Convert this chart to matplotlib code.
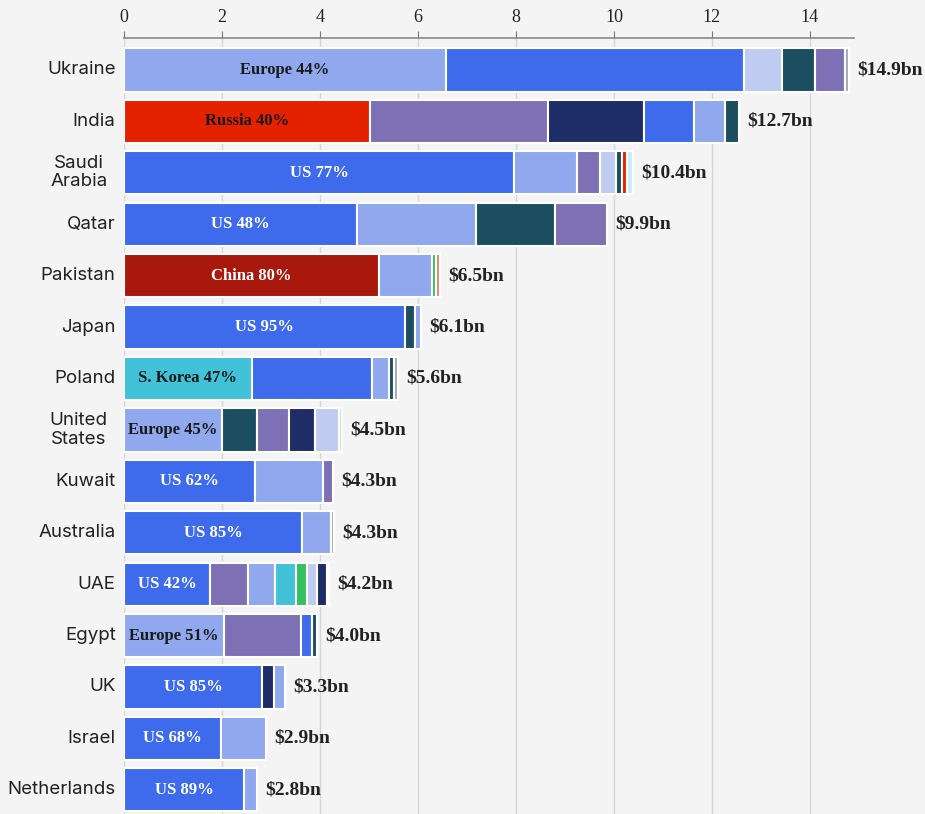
import matplotlib.pyplot as plt

# countries, top to bottom
countries = ['Ukraine', 'India', 'Saudi\nArabia', 'Qatar', 'Pakistan', 'Japan',
             'Poland', 'United\nStates', 'Kuwait', 'Australia', 'UAE', 'Egypt',
             'UK', 'Israel', 'Netherlands']
totals = ['14.9', '12.7', '10.4', '9.9', '6.5', '6.1', '5.6', '4.5', '4.3', '4.3',
          '4.2', '4.0', '3.3', '2.9', '2.8']
first_labels = ['Europe 44%', 'Russia 40%', 'US 77%', 'US 48%', 'China 80%',
                'US 95%', 'S. Korea 47%', 'Europe 45%', 'US 62%', 'US 85%',
                'US 42%', 'Europe 51%', 'US 85%', 'US 68%', 'US 89%']

# segment values ($bn) and colour keys, one list per country
seg_values = [
    [6.57, 6.08, 0.78, 0.67, 0.61, 0.08],
    [5.02, 3.63, 1.96, 1.02, 0.63, 0.30],
    [7.96, 1.28, 0.47, 0.33, 0.12, 0.11, 0.12],
    [4.76, 2.42, 1.62, 1.06],
    [5.20, 1.09, 0.08, 0.08],
    [5.74, 0.20, 0.12],
    [2.61, 2.45, 0.35, 0.10, 0.08],
    [2.00, 0.71, 0.66, 0.53, 0.49, 0.06],
    [2.67, 1.39, 0.21],
    [3.64, 0.58, 0.07],
    [1.76, 0.77, 0.55, 0.43, 0.22, 0.21, 0.20, 0.04],
    [2.04, 1.57, 0.23, 0.10],
    [2.82, 0.24, 0.23],
    [1.97, 0.93],
    [2.45, 0.26],
]
seg_keys = [
    ['ltblue', 'blue', 'lavender', 'teal', 'purple', 'grey'],
    ['red', 'purple', 'navy', 'blue', 'ltblue', 'teal'],
    ['blue', 'ltblue', 'purple', 'lavender', 'teal', 'red', 'ltcyan'],
    ['blue', 'ltblue', 'teal', 'purple'],
    ['darkred', 'ltblue', 'green', 'salmon'],
    ['blue', 'teal', 'ltblue'],
    ['cyan', 'blue', 'ltblue', 'teal', 'grey'],
    ['ltblue', 'teal', 'purple', 'navy', 'lavender', 'ltgreen'],
    ['blue', 'ltblue', 'purple'],
    ['blue', 'ltblue', 'grey'],
    ['blue', 'purple', 'ltblue', 'cyan', 'green', 'lavender', 'navy', 'grey'],
    ['ltblue', 'purple', 'blue', 'teal'],
    ['blue', 'navy', 'ltblue'],
    ['blue', 'ltblue'],
    ['blue', 'ltblue'],
]

colors = {
    'blue': '#3e6bec', 'ltblue': '#8fa8ee', 'lavender': '#bfcbf0',
    'teal': '#1b4f5f', 'purple': '#7e70b4', 'navy': '#1e2c68',
    'red': '#e42200', 'darkred': '#a8180c', 'cyan': '#42c2d8',
    'green': '#33c05e', 'salmon': '#f08070', 'ltcyan': '#c8eef5',
    'grey': '#a3a8b6', 'ltgreen': '#b5ecc4',
}
dark_text = {'ltblue', 'red', 'cyan'}

bg = '#f4f4f4'
fig = plt.figure(figsize=(9.25, 8.14), dpi=100, facecolor=bg)
ax = fig.add_axes([124 / 925, 0, (854 - 124) / 925, 1 - 38 / 814])
ax.set_facecolor(bg)

n = len(countries)
for i in range(n):
    left = 0
    for j, (v, k) in enumerate(zip(seg_values[i], seg_keys[i])):
        ax.barh(i, v, left=left, height=0.84, color=colors[k],
                edgecolor='white', linewidth=1.5, zorder=3)
        if j == 0:
            tc = '#1a1a1a' if k in dark_text else 'white'
            ax.text(left + v / 2, i, first_labels[i], ha='center', va='center',
                    fontsize=12, fontweight='bold', family='Liberation Serif',
                    color=tc, zorder=4)
        left += v
    ax.annotate('\\$' + totals[i] + 'bn', (left, i), xytext=(6, 0),
                textcoords='offset points', ha='left', va='center',
                fontsize=14, fontweight='bold', family='Liberation Serif',
                color='#222222', annotation_clip=False)
    off = -12 if '\n' in countries[i] else -6
    ax.annotate(countries[i], (0, i), xytext=(off, 0), textcoords='offset points',
                ha='right', va='center', multialignment='center', fontsize=13.5,
                family='Inter', color='#222222', linespacing=1.1,
                annotation_clip=False)

ax.set_xlim(0, 14.9)
ax.set_ylim(n - 0.53, -0.622)
ax.set_xticks(range(0, 15, 2))
ax.xaxis.tick_top()
ax.tick_params(axis='x', direction='out', length=5, color='#777777', pad=4,
               labelsize=13, labelcolor='#222222')
for lb in ax.get_xticklabels():
    lb.set_family('Liberation Serif')
ax.set_yticks([])
ax.grid(axis='x', color='#d6d6d6', linewidth=1, zorder=0)
for s in ['left', 'right', 'bottom']:
    ax.spines[s].set_visible(False)
ax.spines['top'].set_color('#888888')
ax.spines['top'].set_linewidth(1.2)

fig.savefig('out.png', dpi=100, facecolor=bg)
